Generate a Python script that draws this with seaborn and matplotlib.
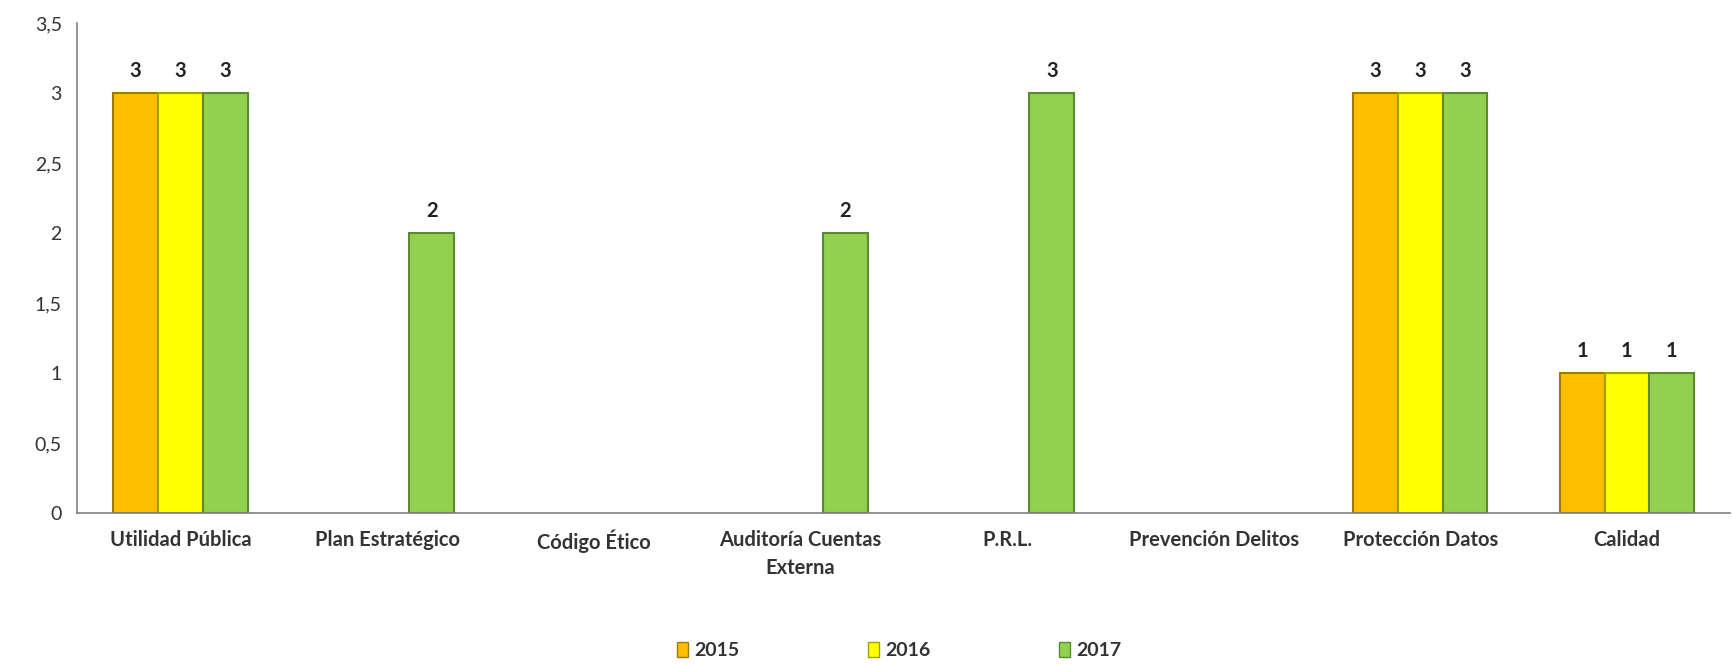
import pandas as pd
import seaborn as sns
import matplotlib.pyplot as plt
from matplotlib.patches import Patch
from matplotlib.ticker import FuncFormatter

categorias = ['Utilidad Pública', 'Plan Estratégico', 'Código Ético',
              'Auditoría Cuentas\nExterna', 'P.R.L.', 'Prevención Delitos',
              'Protección Datos', 'Calidad']
anios = ['2015', '2016', '2017']
v2015 = [3, 0, 0, 0, 0, 0, 3, 1]
v2016 = [3, 0, 0, 0, 0, 0, 3, 1]
v2017 = [3, 2, 0, 2, 3, 0, 3, 1]
colores = ['#FDBE00', '#FFFF00', '#92D050']
bordes = ['#A07A00', '#A0A000', '#5C8A30']

df = pd.DataFrame({
    'Categoria': categorias * 3,
    'Año': [a for a in anios for _ in categorias],
    'Valor': v2015 + v2016 + v2017,
})

sns.set_style('white')
plt.rcParams['font.family'] = ['Lato', 'DejaVu Sans']

fig, ax = plt.subplots(figsize=(17.32, 6.65), dpi=100)
fig.subplots_adjust(left=0.0445, right=0.999, top=0.965, bottom=0.2286)

sns.barplot(data=df, x='Categoria', y='Valor', hue='Año', palette=colores,
            width=0.65, saturation=1, ax=ax, legend=False)

for cont, borde in zip(ax.containers, bordes):
    for barra in cont:
        if barra.get_height() > 0:
            barra.set_edgecolor(borde)
            barra.set_linewidth(1.5)
        else:
            barra.set_linewidth(0)
    etiquetas = [f'{b.get_height():g}' if b.get_height() > 0 else '' for b in cont]
    ax.bar_label(cont, labels=etiquetas, padding=9, fontsize=14.5,
                 fontweight='bold', color='#222222')

ax.set_ylim(0, 3.5)
ax.set_yticks([0, 0.5, 1, 1.5, 2, 2.5, 3, 3.5])
ax.yaxis.set_major_formatter(FuncFormatter(lambda v, p: f'{v:g}'.replace('.', ',')))
ax.set_xlim(-0.5, len(categorias) - 0.5)
ax.set_xlabel('')
ax.set_ylabel('')

ax.set_xticks([i - 0.5 for i in range(len(categorias) + 1)], minor=True)
ax.tick_params(axis='x', which='major', length=0, pad=12, labelsize=14.5)
ax.tick_params(axis='x', which='minor', length=5, width=1, color='#808080', direction='out')
ax.tick_params(axis='y', length=5, width=1, color='#808080', direction='out',
               labelsize=14, labelcolor='#333333', pad=6)
for lab in ax.get_xticklabels():
    lab.set_fontweight('bold')
    lab.set_color('#333333')
    lab.set_linespacing(1.5)

sns.despine(ax=ax)
for s in ['left', 'bottom']:
    ax.spines[s].set_color('#808080')
    ax.spines[s].set_linewidth(1.2)

handles = [Patch(facecolor=c, edgecolor=b, label=a) for c, b, a in zip(colores, bordes, anios)]
leg = fig.legend(handles=handles, loc='center', bbox_to_anchor=(0.519, 0.022), ncol=3,
                 frameon=False, handlelength=0.6, handleheight=0.8, handletextpad=0.3,
                 columnspacing=6.6, prop={'weight': 'bold', 'size': 14})
for t in leg.get_texts():
    t.set_color('#333333')

fig.savefig('out.png', dpi=100)
